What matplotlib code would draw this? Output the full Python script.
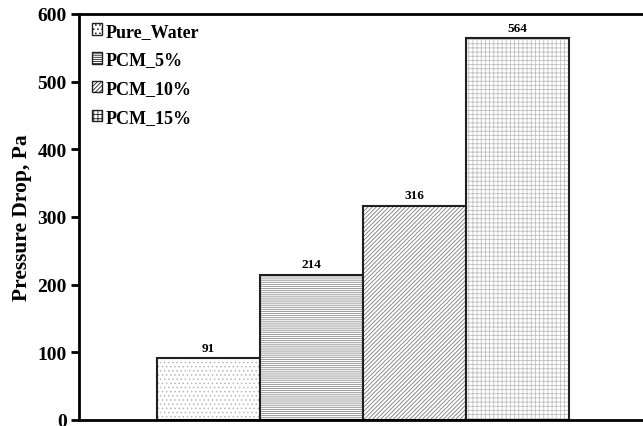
import matplotlib.pyplot as plt

series = ["Pure_Water", "PCM_5%", "PCM_10%", "PCM_15%"]
values = [91, 214, 316, 564]
hatches = ["....", "--------", "////////", "++++"]
hatch_colors = ["#b8b8b8", "#8c8c8c", "#7a7a7a", "#c0c0c0"]
yticks = [0, 100, 200, 300, 400, 500, 600]

plt.rcParams["font.family"] = ["Liberation Serif", "DejaVu Serif"]
plt.rcParams["font.weight"] = "bold"
plt.rcParams["hatch.linewidth"] = 0.6

fig = plt.figure(figsize=(6.43, 4.27), dpi=100)
ax = fig.add_axes([79 / 643, 1 - 421 / 427, 568 / 643, (421 - 15) / 427])

w = 103 / 568
offsets = [-1.5, -0.5, 0.5, 1.5]
for name, v, h, hc, o in zip(series, values, hatches, hatch_colors, offsets):
    ax.bar(o * w, v, width=w, color="white", edgecolor=hc, hatch=h,
           linewidth=0, label=name)
    ax.bar(o * w, v, width=w, color="none", edgecolor="#202020", linewidth=1.5)
    ax.text(o * w, v + 7, str(v), ha="center", va="bottom", fontsize=9.5, fontweight="bold")

ax.set_xlim(-0.5, 0.5)
ax.set_ylim(0, 600)
ax.set_yticks(yticks)
ax.set_xticks([])
ax.tick_params(axis="y", labelsize=14, width=2, length=6, direction="out", pad=3)
for lbl in ax.get_yticklabels():
    lbl.set_fontweight("bold")
for s in ["left", "bottom", "top"]:
    ax.spines[s].set_linewidth(2)
ax.spines["right"].set_visible(False)
ax.set_ylabel("Pressure Drop, Pa", fontsize=15.5, fontweight="bold", labelpad=4)

leg = ax.legend(loc="upper left", bbox_to_anchor=(0.0, 1.01), frameon=False,
                fontsize=13, handlelength=0.6, handleheight=0.6, handletextpad=0.15,
                labelspacing=0.65, borderaxespad=0.3)
for p in leg.get_patches():
    p.set_edgecolor("#202020")
    p.set_linewidth(1.0)

fig.savefig("out.png", dpi=100)
